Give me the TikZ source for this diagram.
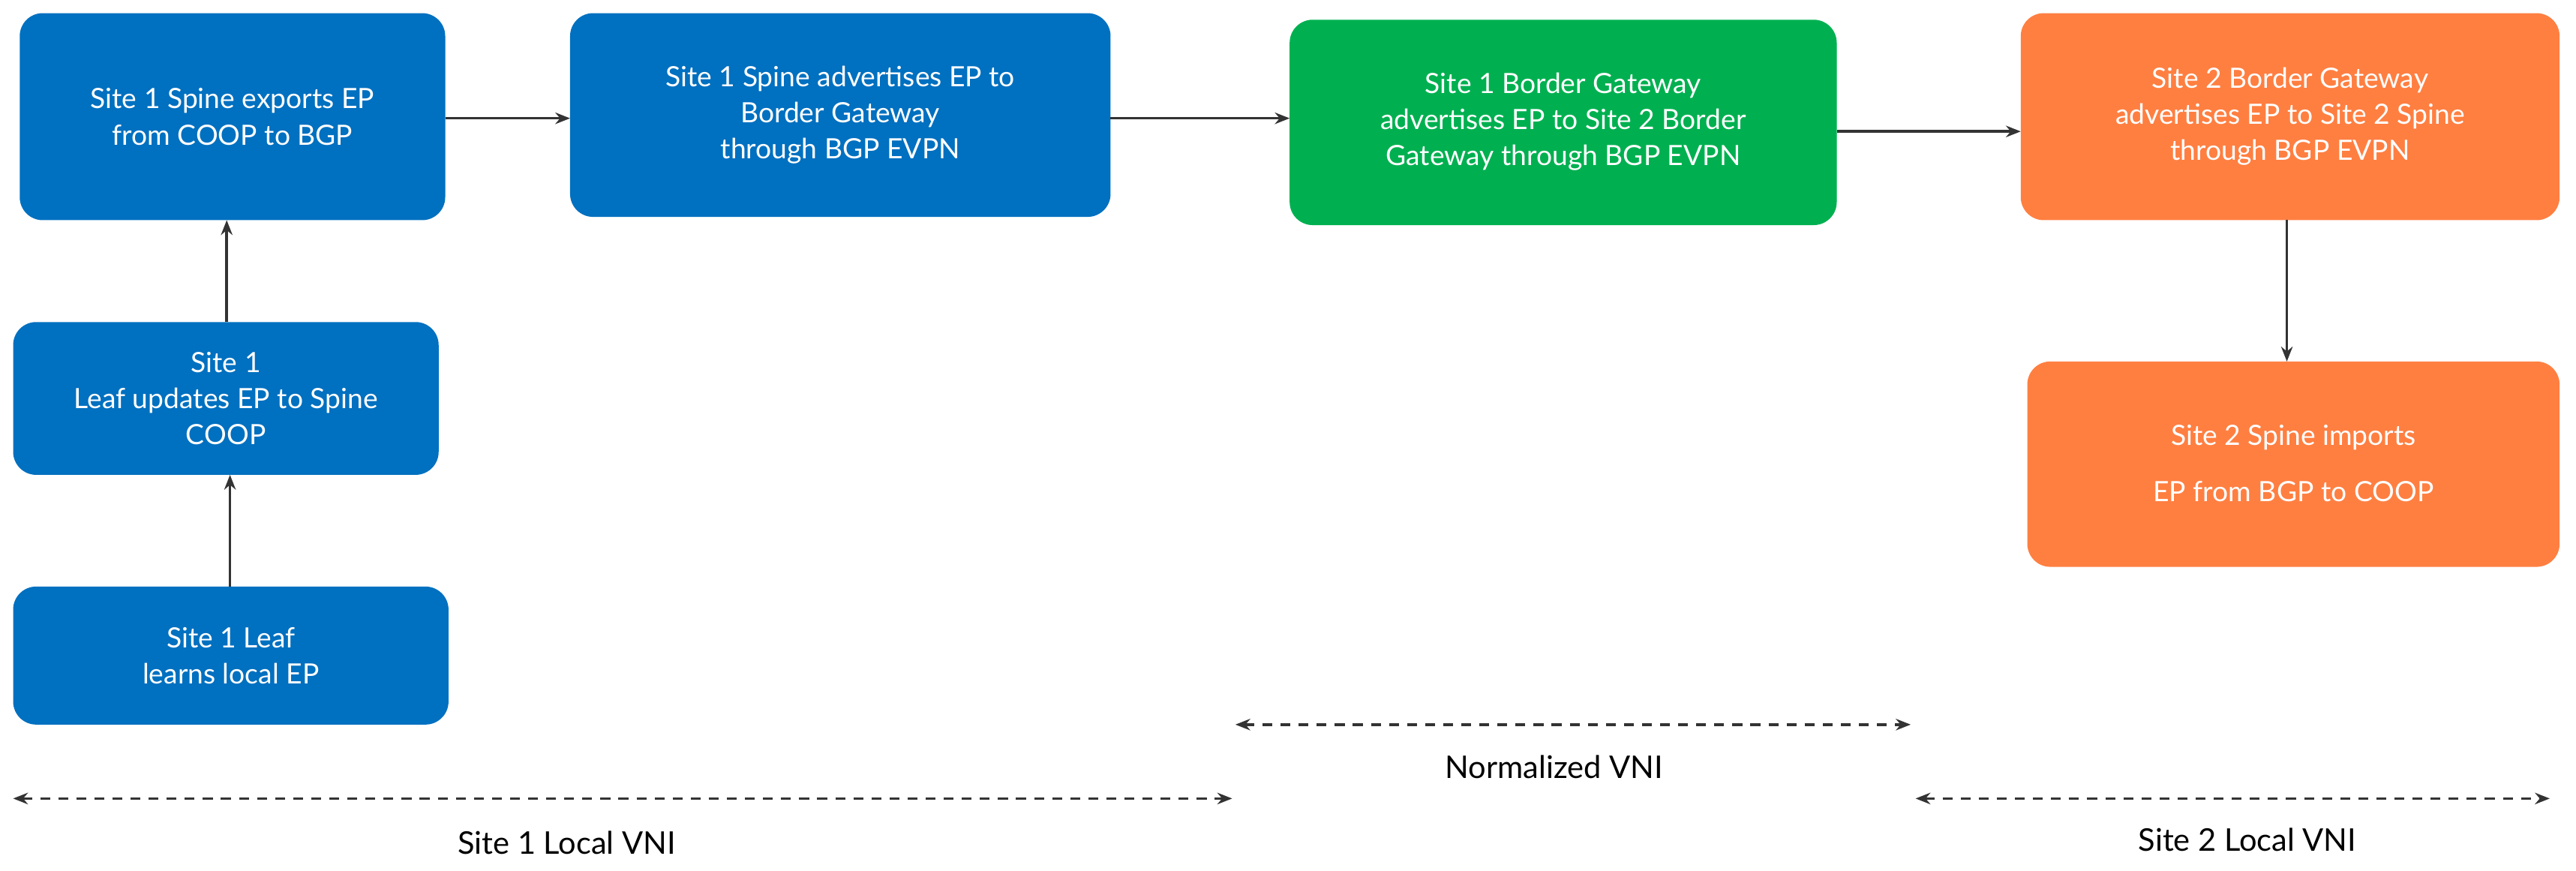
\documentclass[tikz,border=0pt]{standalone}
\usepackage{fontspec}
\setmainfont{Lato}
\usetikzlibrary{arrows.meta}
\definecolor{cblue}{HTML}{0070C0}
\definecolor{cgreen}{HTML}{00B050}
\definecolor{corange}{HTML}{FF7F41}
\definecolor{cline}{HTML}{333333}
\begin{document}
\begin{tikzpicture}[x=1pt,y=-1pt,
  box/.style={rounded corners=14pt,text=white,align=center,font=\fontsize{17}{22}\selectfont},
  conn/.style={draw=cline,line width=1.6pt,-{Stealth[length=9pt,width=7pt]}},
  span/.style={draw=cline,line width=1.6pt,dashed,dash pattern=on 6pt off 5pt,{Stealth[length=9pt,width=7pt]}-{Stealth[length=9pt,width=7pt]}},
  lbl/.style={font=\fontsize{19}{23}\selectfont,text=black}]
\useasboundingbox (0,0) rectangle (1568,530);
\fill[box,cblue] (12,8) rectangle (271,134);
\node[box] (A) at (141.5,71) {Site 1 Spine exports EP\\from COOP to BGP};
\fill[box,cblue] (347,8) rectangle (676,132);
\node[box] (B) at (511.5,70) {Site 1 Spine advertises EP to\\Border Gateway\\through BGP EVPN};
\fill[box,cgreen] (785,12) rectangle (1118,137);
\node[box] (C) at (951.5,74) {Site 1 Border Gateway\\advertises EP to Site 2 Border\\Gateway through BGP EVPN};
\fill[box,corange] (1230,8) rectangle (1558,134);
\node[box] (D) at (1394,71) {Site 2 Border Gateway\\advertises EP to Site 2 Spine\\through BGP EVPN};
\fill[box,corange] (1234,220) rectangle (1558,345);
\node[box] (E) at (1396,282) {Site 2 Spine imports\\[12pt]EP from BGP to COOP};
\fill[box,cblue] (8,196) rectangle (267,289);
\node[box] (F) at (137.5,242.5) {Site 1\\Leaf updates EP to Spine\\COOP};
\fill[box,cblue] (8,357) rectangle (273,441);
\node[box] (G) at (140.5,399) {Site 1 Leaf\\learns local EP};
\coordinate (a1) at (271,72); \coordinate (b1) at (347,72);
\coordinate (b2) at (676,72); \coordinate (c1) at (785,72);
\coordinate (c2) at (1118,80); \coordinate (d1) at (1230,80);
\coordinate (d2) at (1392,134); \coordinate (e1) at (1392,220);
\coordinate (g1) at (140,357); \coordinate (f1) at (140,289);
\coordinate (f2) at (138,196); \coordinate (a2) at (138,134);
\draw[conn] (a1) -- (b1);
\draw[conn] (b2) -- (c1);
\draw[conn] (c2) -- (d1);
\draw[conn] (d2) -- (e1);
\draw[conn] (g1) -- (f1);
\draw[conn] (f2) -- (a2);
\coordinate (s1) at (8,486); \coordinate (s2) at (750,486);
\coordinate (n1) at (752,441); \coordinate (n2) at (1163,441);
\coordinate (t1) at (1166,486); \coordinate (t2) at (1552,486);
\draw[span] (s1) -- (s2);
\draw[span] (n1) -- (n2);
\draw[span] (t1) -- (t2);
\node[lbl] (L1) at (345,513) {Site 1 Local VNI};
\node[lbl] (L2) at (946,467) {Normalized VNI};
\node[lbl] (L3) at (1368,511) {Site 2 Local VNI};
\end{tikzpicture}
\end{document}
